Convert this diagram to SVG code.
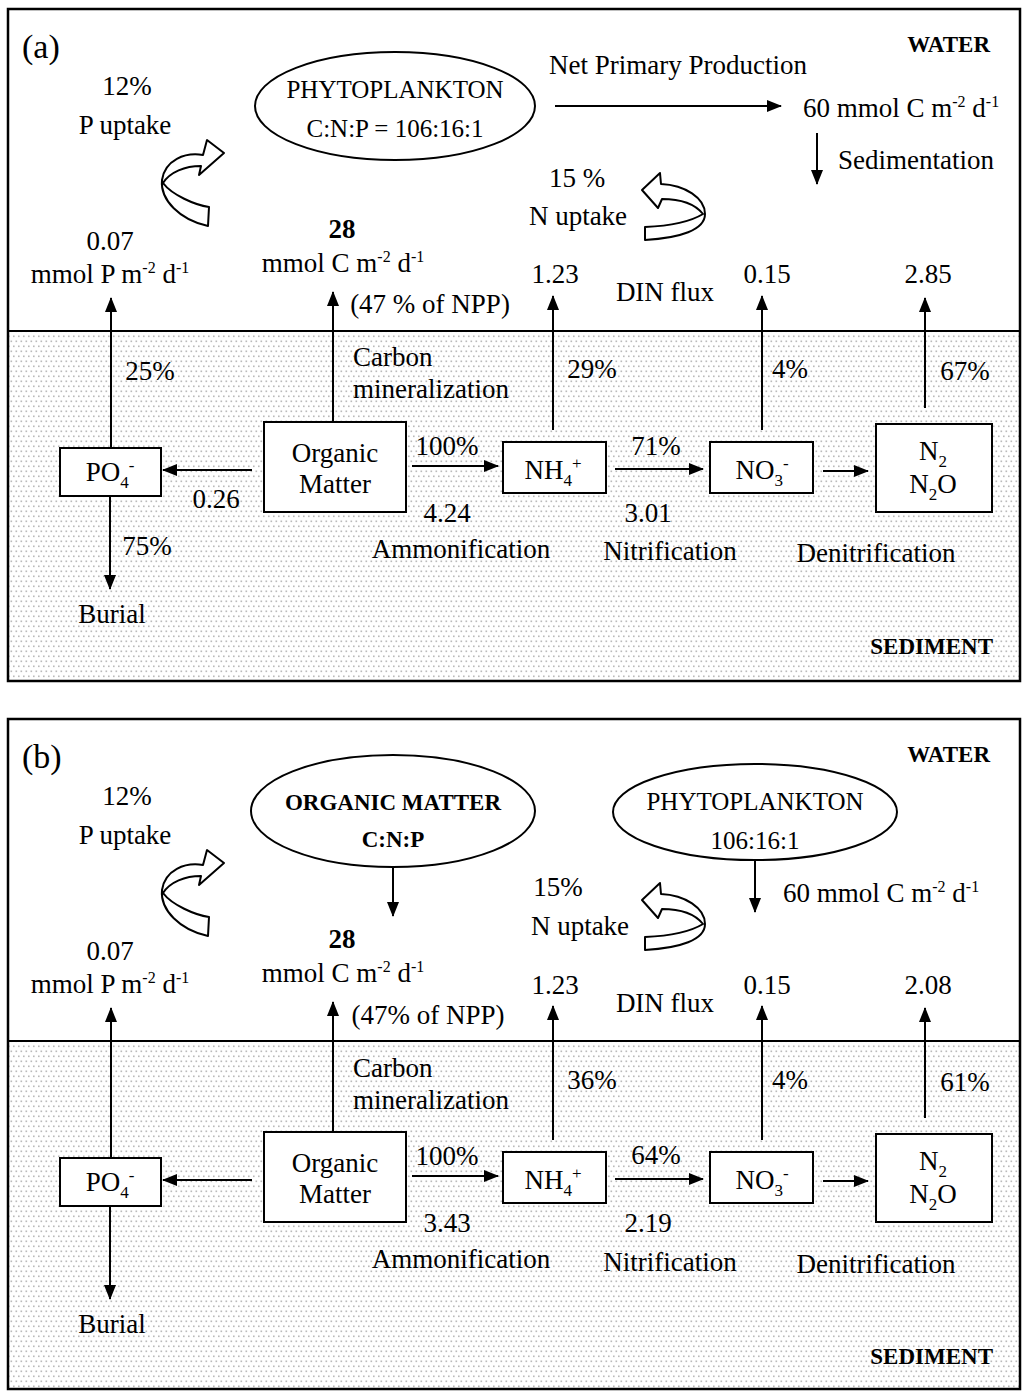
<svg xmlns="http://www.w3.org/2000/svg" width="1024" height="1392" viewBox="0 0 1024 1392">
<defs>
<pattern id="dots" width="5" height="10" patternUnits="userSpaceOnUse">
<rect width="5" height="10" fill="#fff"/>
<rect x="0.5" y="0.5" width="1.6" height="1.6" fill="#bababa"/>
<rect x="3" y="5.5" width="1.6" height="1.6" fill="#bababa"/>
</pattern>
<marker id="ah" markerWidth="15" markerHeight="12" refX="14" refY="6" orient="auto" markerUnits="userSpaceOnUse">
<path d="M0,0 L15,6 L0,12 Z" fill="#000"/>
</marker>
<path id="pup" d="M209,207 C195,205 172,195 163,183 C170,172 185,166 201,166 L199,175 L224,153 L207,140 L203,155 C185,152 165,160 162,180 C160,200 180,220 208,226 Z"/>
<path id="nup" d="M642,190 L660,173 L661,184 C685,185 705,198 705,214 C705,230 680,238 645,240 L645,227 C668,226 690,222 703,214 C695,204 680,199 662,199 L658,208 Z"/>
</defs>
<style>
text{font-family:"Liberation Serif","Times New Roman",serif;font-size:27px;fill:#000}
.c{text-anchor:middle}
.b{font-weight:bold}
.lbl{font-size:23px;font-weight:bold;text-anchor:end}
.ell{font-size:25px;text-anchor:middle}
.box{fill:#fff;stroke:#000;stroke-width:2}
.frame{fill:none;stroke:#000;stroke-width:2.5}
.sed{fill:url(#dots)}
.ln{stroke:#000;stroke-width:2;fill:none}
.ar{stroke:#000;stroke-width:2;fill:none;marker-end:url(#ah)}
.curv{fill:#fff;stroke:#000;stroke-width:2;stroke-linejoin:round}
</style>

<!-- ================= PANEL A ================= -->
<g id="panelA">
<rect class="sed" x="8" y="331" width="1012" height="350"/>
<line class="ln" x1="8" y1="331" x2="1020" y2="331"/>
<rect class="frame" x="8" y="9" width="1012" height="672"/>
<text x="22" y="58" style="font-size:34px">(a)</text>
<text class="lbl" x="990" y="52">WATER</text>
<text class="lbl" x="993" y="654">SEDIMENT</text>
</g>

<g id="a-phyto">
<ellipse class="box" cx="395" cy="106" rx="140" ry="54"/>
<text class="ell" x="395" y="98">PHYTOPLANKTON</text>
<text class="ell" x="395" y="137">C:N:P = 106:16:1</text>
</g>
<g id="a-po4"><rect class="box" x="60" y="448" width="101" height="48"/><text class="c" x="110" y="481">PO<tspan font-size="17" dy="7">4</tspan><tspan font-size="17" dy="-17">-</tspan></text></g>
<g id="a-om"><rect class="box" x="264" y="422" width="142" height="90"/><text class="c" x="335" y="462">Organic</text><text class="c" x="335" y="493">Matter</text></g>
<g id="a-nh4"><rect class="box" x="503" y="442" width="103" height="51"/><text class="c" x="553" y="479">NH<tspan font-size="17" dy="7">4</tspan><tspan font-size="17" dy="-17">+</tspan></text></g>
<g id="a-no3"><rect class="box" x="710" y="442" width="103" height="51"/><text class="c" x="762" y="479">NO<tspan font-size="17" dy="7">3</tspan><tspan font-size="17" dy="-17">-</tspan></text></g>
<g id="a-n2"><rect class="box" x="876" y="424" width="116" height="88"/><text class="c" x="933" y="460">N<tspan font-size="17" dy="7">2</tspan></text><text class="c" x="933" y="493">N<tspan font-size="17" dy="7">2</tspan><tspan dy="-7">O</tspan></text></g>

<g id="a-labels">
<text class="c" x="127" y="95">12%</text>
<text class="c" x="125" y="134">P uptake</text>
<text class="c" x="678" y="74">Net Primary Production</text>
<text x="803" y="117">60 mmol C m<tspan font-size="16" dy="-10">-2</tspan><tspan dy="10"> d</tspan><tspan font-size="16" dy="-10">-1</tspan></text>
<text class="c" x="916" y="169">Sedimentation</text>
<text class="c" x="577" y="187">15 %</text>
<text class="c" x="578" y="225">N uptake</text>
<text class="c" x="110" y="250">0.07</text>
<text class="c" x="110" y="283">mmol P m<tspan font-size="16" dy="-10">-2</tspan><tspan dy="10"> d</tspan><tspan font-size="16" dy="-10">-1</tspan></text>
<text class="c b" x="342" y="238">28</text>
<text class="c" x="343" y="272">mmol C m<tspan font-size="16" dy="-10">-2</tspan><tspan dy="10"> d</tspan><tspan font-size="16" dy="-10">-1</tspan></text>
<text class="c" x="430" y="313">(47 % of NPP)</text>
<text class="c" x="555" y="283">1.23</text>
<text class="c" x="665" y="301">DIN flux</text>
<text class="c" x="767" y="283">0.15</text>
<text class="c" x="928" y="283">2.85</text>
<text class="c" x="150" y="380">25%</text>
<text x="353" y="366">Carbon</text>
<text x="353" y="398">mineralization</text>
<text class="c" x="592" y="378">29%</text>
<text class="c" x="790" y="378">4%</text>
<text class="c" x="965" y="380">67%</text>
<text class="c" x="447" y="455">100%</text>
<text class="c" x="656" y="455">71%</text>
<text class="c" x="216" y="508">0.26</text>
<text class="c" x="447" y="522">4.24</text>
<text class="c" x="648" y="522">3.01</text>
<text class="c" x="147" y="555">75%</text>
<text class="c" x="461" y="558">Ammonification</text>
<text class="c" x="670" y="560">Nitrification</text>
<text class="c" x="876" y="562">Denitrification</text>
<text class="c" x="112" y="623">Burial</text>
</g>

<g id="a-connectors">
<use href="#pup" class="curv"/>
<use href="#nup" class="curv"/>
<line class="ar" x1="555" y1="106" x2="781" y2="106"/>
<line class="ar" x1="817" y1="133" x2="817" y2="184"/>
<line class="ar" x1="111" y1="448" x2="111" y2="298"/>
<line class="ar" x1="333" y1="422" x2="333" y2="292"/>
<line class="ar" x1="553" y1="430" x2="553" y2="296"/>
<line class="ar" x1="762" y1="430" x2="762" y2="296"/>
<line class="ar" x1="925" y1="408" x2="925" y2="298"/>
<line class="ar" x1="252" y1="470" x2="163" y2="470"/>
<line class="ar" x1="412" y1="466" x2="498" y2="466"/>
<line class="ar" x1="615" y1="469" x2="703" y2="469"/>
<line class="ar" x1="823" y1="471" x2="868" y2="471"/>
<line class="ar" x1="110" y1="497" x2="110" y2="589"/>
</g>

<!-- ================= PANEL B ================= -->
<g id="panelB">
<rect class="sed" x="8" y="1041" width="1012" height="348"/>
<line class="ln" x1="8" y1="1041" x2="1020" y2="1041"/>
<rect class="frame" x="8" y="719" width="1012" height="670"/>
<text x="22" y="768" style="font-size:34px">(b)</text>
<text class="lbl" x="990" y="762">WATER</text>
<text class="lbl" x="993" y="1364">SEDIMENT</text>
</g>

<g id="b-om-ell">
<ellipse class="box" cx="393" cy="811" rx="142" ry="56"/>
<text class="ell b" x="393" y="810" style="font-size:23px">ORGANIC MATTER</text>
<text class="ell b" x="393" y="847" style="font-size:23px">C:N:P</text>
</g>
<g id="b-phyto">
<ellipse class="box" cx="755" cy="812" rx="142" ry="48"/>
<text class="ell" x="755" y="810">PHYTOPLANKTON</text>
<text class="ell" x="755" y="849">106:16:1</text>
</g>
<g id="b-po4"><rect class="box" x="60" y="1158" width="101" height="48"/><text class="c" x="110" y="1191">PO<tspan font-size="17" dy="7">4</tspan><tspan font-size="17" dy="-17">-</tspan></text></g>
<g id="b-om"><rect class="box" x="264" y="1132" width="142" height="90"/><text class="c" x="335" y="1172">Organic</text><text class="c" x="335" y="1203">Matter</text></g>
<g id="b-nh4"><rect class="box" x="503" y="1152" width="103" height="51"/><text class="c" x="553" y="1189">NH<tspan font-size="17" dy="7">4</tspan><tspan font-size="17" dy="-17">+</tspan></text></g>
<g id="b-no3"><rect class="box" x="710" y="1152" width="103" height="51"/><text class="c" x="762" y="1189">NO<tspan font-size="17" dy="7">3</tspan><tspan font-size="17" dy="-17">-</tspan></text></g>
<g id="b-n2"><rect class="box" x="876" y="1134" width="116" height="88"/><text class="c" x="933" y="1170">N<tspan font-size="17" dy="7">2</tspan></text><text class="c" x="933" y="1203">N<tspan font-size="17" dy="7">2</tspan><tspan dy="-7">O</tspan></text></g>

<g id="b-labels">
<text class="c" x="127" y="805">12%</text>
<text class="c" x="125" y="844">P uptake</text>
<text x="783" y="902">60 mmol C m<tspan font-size="16" dy="-10">-2</tspan><tspan dy="10"> d</tspan><tspan font-size="16" dy="-10">-1</tspan></text>
<text class="c" x="558" y="896">15%</text>
<text class="c" x="580" y="935">N uptake</text>
<text class="c" x="110" y="960">0.07</text>
<text class="c" x="110" y="993">mmol P m<tspan font-size="16" dy="-10">-2</tspan><tspan dy="10"> d</tspan><tspan font-size="16" dy="-10">-1</tspan></text>
<text class="c b" x="342" y="948">28</text>
<text class="c" x="343" y="982">mmol C m<tspan font-size="16" dy="-10">-2</tspan><tspan dy="10"> d</tspan><tspan font-size="16" dy="-10">-1</tspan></text>
<text class="c" x="428" y="1024">(47% of NPP)</text>
<text class="c" x="555" y="994">1.23</text>
<text class="c" x="665" y="1012">DIN flux</text>
<text class="c" x="767" y="994">0.15</text>
<text class="c" x="928" y="994">2.08</text>
<text x="353" y="1077">Carbon</text>
<text x="353" y="1109">mineralization</text>
<text class="c" x="592" y="1089">36%</text>
<text class="c" x="790" y="1089">4%</text>
<text class="c" x="965" y="1091">61%</text>
<text class="c" x="447" y="1165">100%</text>
<text class="c" x="656" y="1164">64%</text>
<text class="c" x="447" y="1232">3.43</text>
<text class="c" x="648" y="1232">2.19</text>
<text class="c" x="461" y="1268">Ammonification</text>
<text class="c" x="670" y="1271">Nitrification</text>
<text class="c" x="876" y="1273">Denitrification</text>
<text class="c" x="112" y="1333">Burial</text>
</g>

<g id="b-connectors">
<use href="#pup" class="curv" transform="translate(0,710)"/>
<use href="#nup" class="curv" transform="translate(0,710)"/>
<line class="ar" x1="393" y1="867" x2="393" y2="916"/>
<line class="ar" x1="755" y1="860" x2="755" y2="912"/>
<line class="ar" x1="111" y1="1158" x2="111" y2="1008"/>
<line class="ar" x1="333" y1="1132" x2="333" y2="1002"/>
<line class="ar" x1="553" y1="1140" x2="553" y2="1006"/>
<line class="ar" x1="762" y1="1140" x2="762" y2="1006"/>
<line class="ar" x1="925" y1="1118" x2="925" y2="1008"/>
<line class="ar" x1="252" y1="1180" x2="163" y2="1180"/>
<line class="ar" x1="412" y1="1176" x2="498" y2="1176"/>
<line class="ar" x1="615" y1="1179" x2="703" y2="1179"/>
<line class="ar" x1="823" y1="1181" x2="868" y2="1181"/>
<line class="ar" x1="110" y1="1207" x2="110" y2="1299"/>
</g>
</svg>
